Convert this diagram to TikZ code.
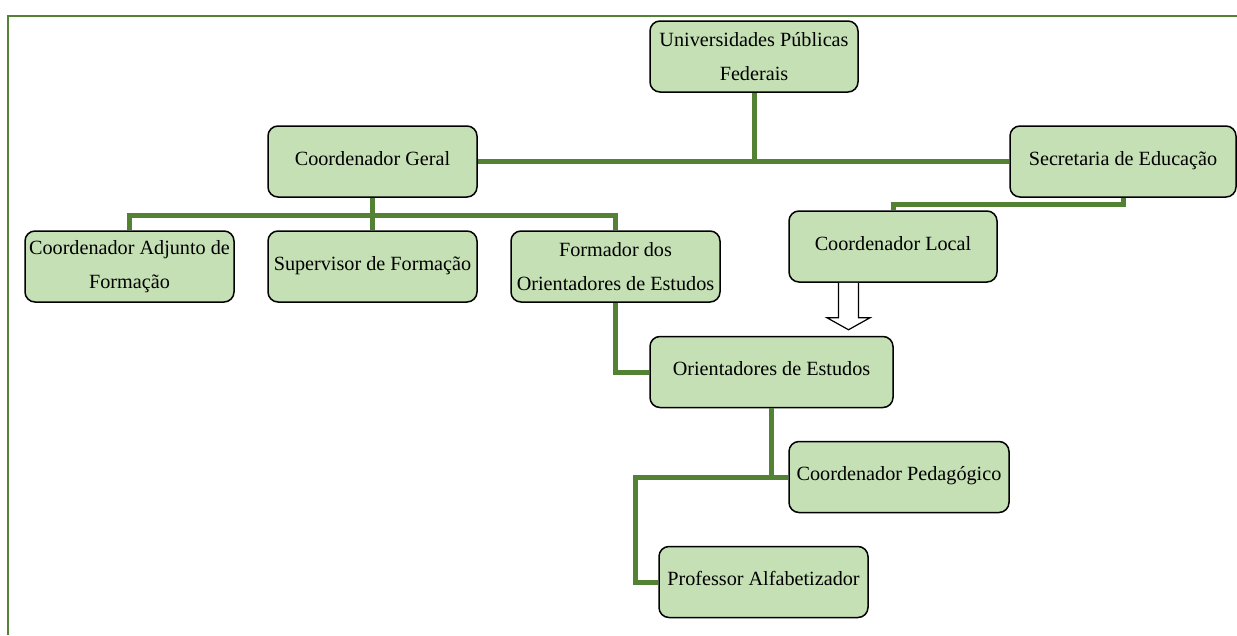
\documentclass[tikz,border=0pt]{standalone}
\usepackage{fontspec}
\setmainfont{Liberation Serif}
\usetikzlibrary{positioning}
\definecolor{verdeescuro}{RGB}{84,130,53}
\definecolor{verdeclaro}{RGB}{197,224,180}

\begin{document}
\begin{tikzpicture}[x=1pt, y=-1pt,
    cargo/.style={draw, line width=1.5pt, rounded corners=10pt, fill=verdeclaro, minimum width=209pt, minimum height=71pt, inner xsep=2pt, align=center, font=\fontsize{20.2}{34}\selectfont},
    umalinha/.style={text height=14pt, text depth=7pt},
    ligacao/.style={draw=verdeescuro, line width=5pt}]
            \useasboundingbox (0,0) rectangle (1237,635);
            \draw [verdeescuro, line width=2.2pt] (8,635) -- (8,16) -- (1237,16);

            \node [cargo, minimum width=208pt] (univ) at (754,56.5) {Universidades Públicas\\Federais};
            \node [cargo, umalinha] (geral) at (372.5,161.5) {Coordenador Geral};
            \node [cargo, umalinha, minimum width=226pt] (secretaria) at (1123,161.5) {Secretaria de Educação};
            \node [cargo, umalinha, below=32.5pt of geral] (supervisor) {Supervisor de Formação};
            \node [cargo, left=32.5pt of supervisor] (adjunto) {Coordenador Adjunto de\\Formação};
            \node [cargo, right=32.5pt of supervisor] (formador) {Formador dos\\Orientadores de Estudos};
            \node [cargo, umalinha, minimum width=208pt] (local) at (893,246.5) {Coordenador Local};
            \node [cargo, umalinha, minimum width=243pt] (orientadores) at (771.5,372) {Orientadores de Estudos};
            \node [cargo, umalinha, minimum width=220pt] (pedagogico) at (899,477) {Coordenador Pedagógico};
            \node [cargo, umalinha] (professor) at (763.5,582) {Professor Alfabetizador};

            \draw [ligacao] (geral.east) -- (secretaria.west);
            \draw [ligacao] (univ.south) -- (univ.south |- geral.east);
            \coordinate (ramo) at ([yshift=-17.5pt]geral.south);
            \draw [ligacao] (geral.south) -- (supervisor.north);
            \draw [ligacao] (adjunto.north) |- (ramo) -| (formador.north);
            \draw [ligacao] (secretaria.south) -- ++(0,7) -| (local.north);
            \draw [ligacao] (formador.south) |- (orientadores.west);
            \draw [ligacao] (orientadores.south) |- (pedagogico.west);
            \draw [ligacao] (orientadores.south |- pedagogico.west) -- ++(-136,0) |- (professor.west);

            \coordinate (seta) at ([xshift=-44.5pt]local.south);
            \draw [line width=1.2pt, fill=white] (seta) ++(-10,0) -- ++(0,35) -- ++(-11.5,0) -- ++(21.5,12) -- ++(21.5,-12) -- ++(-11.5,0) -- ++(0,-35);
        \end{tikzpicture}
\end{document}
